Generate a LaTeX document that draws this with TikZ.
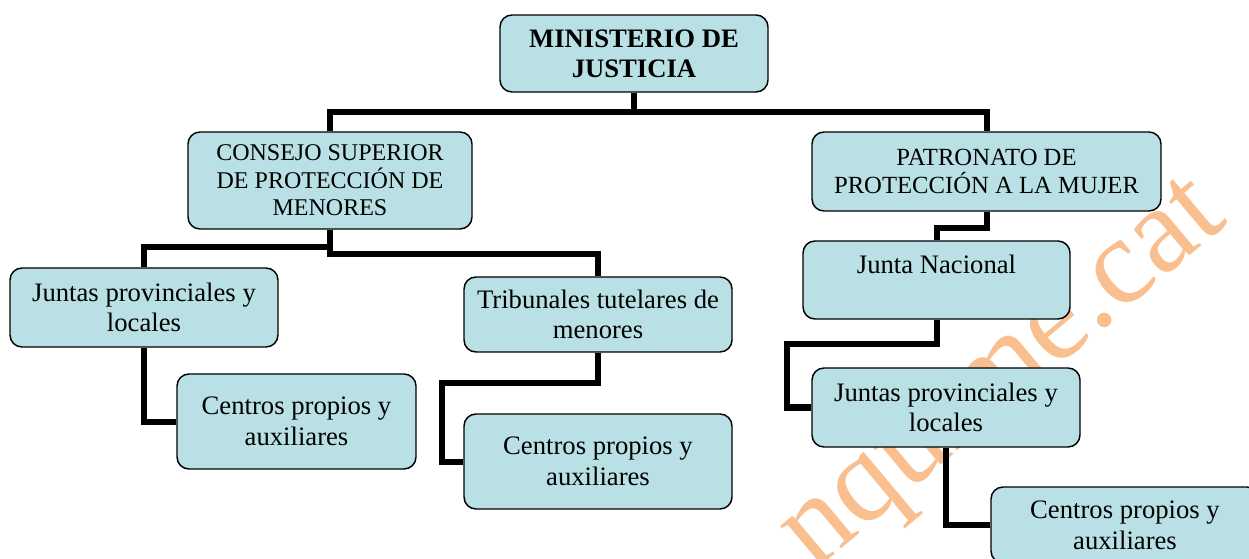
\documentclass[tikz,border=0pt]{standalone}
\usepackage{fontspec}
\setmainfont{Liberation Serif}
\usetikzlibrary{calc}
\definecolor{cajafondo}{RGB}{185,224,228}
\definecolor{marca}{RGB}{249,191,143}
\begin{document}
\begin{tikzpicture}[x=0.75pt,y=-0.75pt,
  caja/.style={draw,line width=1.1pt,rounded corners=9pt,fill=cajafondo,align=center,inner sep=0pt,font=\fontsize{20}{23}\selectfont},
  enlace/.style={line width=4.5pt}]
\useasboundingbox (0,0) rectangle (1249,559);
\clip (0,0) rectangle (1249,559);
\node[rotate=40,text=marca,font=\fontsize{92}{92}\selectfont] (marca) at (1004,376) {nquime.cat};
\node[caja,minimum width=201pt,minimum height=57.75pt,font=\fontsize{20}{22.5}\selectfont\bfseries] (min) at (634,53.5) {MINISTERIO DE\\JUSTICIA};
\node[caja,minimum width=213pt,minimum height=72.75pt,font=\fontsize{18}{20.6}\selectfont] (csm) at (330,180.5) {CONSEJO SUPERIOR\\DE PROTECCIÓN DE\\MENORES};
\node[caja,minimum width=261.75pt,minimum height=59.25pt,font=\fontsize{18.5}{21}\selectfont] (ppm) at (986.5,171.5) {PATRONATO DE\\PROTECCIÓN A LA MUJER};
\node[caja,minimum width=201pt,minimum height=59.25pt] (jpl) at (144,307.5) {Juntas provinciales y\\locales};
\node[caja,minimum width=179.25pt,minimum height=71.25pt] (cpl) at (296.5,421.5) {Centros propios y\\auxiliares};
\node[caja,minimum width=201pt,minimum height=56.25pt] (ttm) at (598,314.5) {Tribunales tutelares de\\menores};
\node[caja,minimum width=201pt,minimum height=71.25pt] (cpm) at (598,461.5) {Centros propios y\\auxiliares};
\node[caja,minimum width=200.25pt,minimum height=58.5pt] (jn) at (936.5,280) {Junta Nacional\\\phantom{x}};
\node[caja,minimum width=201pt,minimum height=59.25pt] (jpr) at (946,407.5) {Juntas provinciales y\\locales};
\node[caja,minimum width=201pt,minimum height=57pt] (cpr) at (1125,525) {Centros propios y\\auxiliares};
\draw[enlace] (min.south) -- ++(0,19) -| (csm.north);
\draw[enlace] (min.south) -- ++(0,19) -| (ppm.north);
\draw[enlace] (csm.south) -- ++(0,17) -| (jpl.north);
\draw[enlace] (csm.south) -- ++(0,24) -| (ttm.north);
\draw[enlace] (jpl.south) |- (cpl.west);
\draw[enlace] (ttm.south) -- ++(0,30) -| ($(cpm.west)+(-21,0)$) -- (cpm.west);
\draw[enlace] (ppm.south) -- ++(0,16) -| (jn.north);
\draw[enlace] (jn.south) -- ++(0,24) -| ($(jpr.west)+(-24,0)$) -- (jpr.west);
\draw[enlace] (jpr.south) |- (cpr.west);
\end{tikzpicture}
\end{document}
